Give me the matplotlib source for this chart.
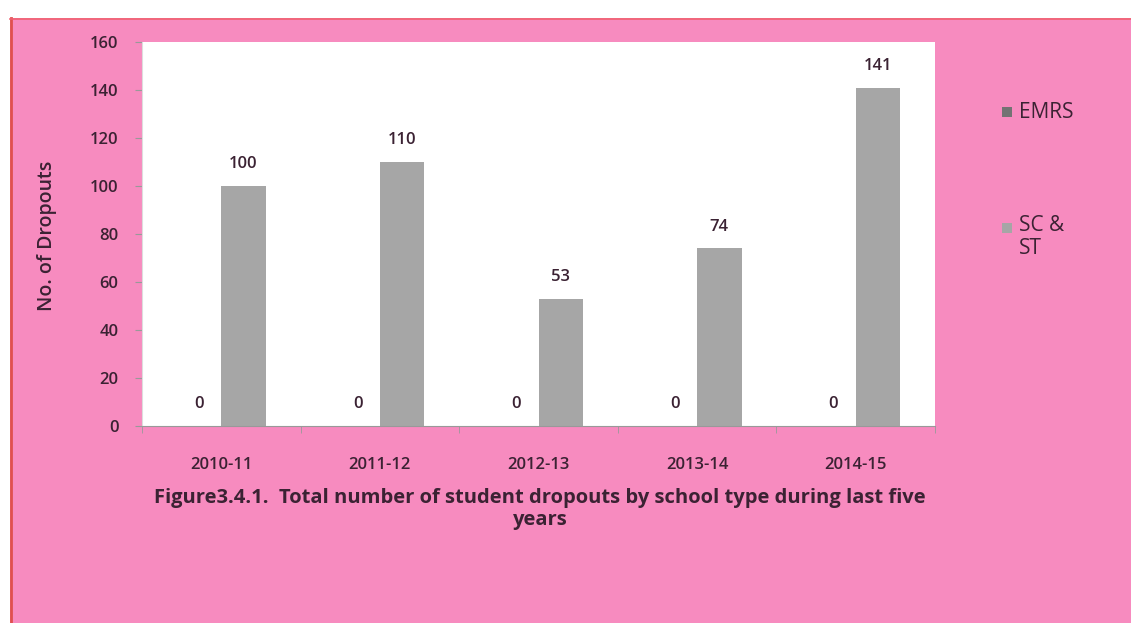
import matplotlib
matplotlib.use("Agg")
import matplotlib.pyplot as plt
import numpy as np
from matplotlib.patches import Rectangle
from matplotlib.lines import Line2D

categories = ["2010-11", "2011-12", "2012-13", "2013-14", "2014-15"]
emrs = [0, 0, 0, 0, 0]
sc_st = [100, 110, 53, 74, 141]
series_names = ["EMRS", "SC &\nST"]
yticks = [0, 20, 40, 60, 80, 100, 120, 140, 160]

W, H = 1131, 623
fig = plt.figure(figsize=(W / 100, H / 100), dpi=100)
pink = "#f78bbf"
fig.patch.set_facecolor(pink)
txt = "#3b2233"
font = "Open Sans"

# white strips on top and left, with red borders
fig.add_artist(Rectangle((0, 1 - 18 / H), 1, 18 / H, transform=fig.transFigure,
                         facecolor="white", edgecolor="none", zorder=-5))
fig.add_artist(Rectangle((0, 0), 10 / W, 1, transform=fig.transFigure,
                         facecolor="white", edgecolor="none", zorder=-5))
fig.add_artist(Line2D([10.5 / W, 10.5 / W], [0, 1 - 18 / H], transform=fig.transFigure,
                      color="#e0504f", lw=2))
fig.add_artist(Line2D([10 / W, 1], [1 - 18.5 / H, 1 - 18.5 / H], transform=fig.transFigure,
                      color="#f06070", lw=1.2))

ax = fig.add_axes([142 / W, 1 - 426 / H, (935 - 142) / W, (426 - 42) / H])
ax.set_facecolor("white")
x = np.arange(len(categories))
bw = 0.28
ax.bar(x - bw / 2, emrs, bw, color="#737373")
ax.bar(x + bw / 2, sc_st, bw, color="#a6a6a6")
for i in range(len(categories)):
    ax.text(x[i] - bw / 2, emrs[i] + 9, str(emrs[i]), ha="center", va="center",
            fontsize=12, color=txt, family=font, fontweight="semibold")
    ax.text(x[i] + bw / 2, sc_st[i] + 9, str(sc_st[i]), ha="center", va="center",
            fontsize=12, color=txt, family=font, fontweight="semibold")

ax.set_xlim(-0.5, len(categories) - 0.5)
ax.set_ylim(0, 160)
ax.set_yticks(yticks)
ax.set_yticklabels([str(v) for v in yticks], fontsize=12, color=txt, family=font,
                   fontweight="semibold")
ax.set_xticks(x)
ax.set_xticklabels(categories, fontsize=12, color=txt, family=font, fontweight="semibold")
ax.set_xticks(np.arange(-0.5, len(categories), 1), minor=True)
ax.tick_params(axis="x", which="major", length=0, pad=22)
ax.tick_params(axis="x", which="minor", length=5, color="#999999", direction="out")
ax.tick_params(axis="y", length=5, color="#999999", pad=12)
for s in ["top", "right"]:
    ax.spines[s].set_visible(False)
ax.spines["left"].set_color("#dddddd")
ax.spines["bottom"].set_color("#999999")

fig.text(47 / W, 1 - 236 / H, "No. of Dropouts", rotation=90, ha="center", va="center",
         fontsize=14, color=txt, family=font, fontweight="semibold")

fig.text(540 / W, 1 - 509 / H,
         "Figure3.4.1.  Total number of student dropouts by school type during last five\nyears",
         ha="center", va="center", fontsize=14.5, color=txt, family=font, fontweight="bold",
         linespacing=1.15)

# legend
fig.add_artist(Rectangle((1002 / W, 1 - 117 / H), 10 / W, 10 / H, transform=fig.transFigure,
                         facecolor="#737373", edgecolor="none"))
fig.text(1019 / W, 1 - 112 / H, series_names[0], ha="left", va="center", fontsize=15,
         color=txt, family=font)
fig.add_artist(Rectangle((1002 / W, 1 - 233 / H), 10 / W, 10 / H, transform=fig.transFigure,
                         facecolor="#a6a6a6", edgecolor="none"))
fig.text(1019 / W, 1 - 215 / H, series_names[1], ha="left", va="top", fontsize=15,
         color=txt, family=font, linespacing=1.15)

fig.savefig("out.png", dpi=100, facecolor=fig.get_facecolor())
